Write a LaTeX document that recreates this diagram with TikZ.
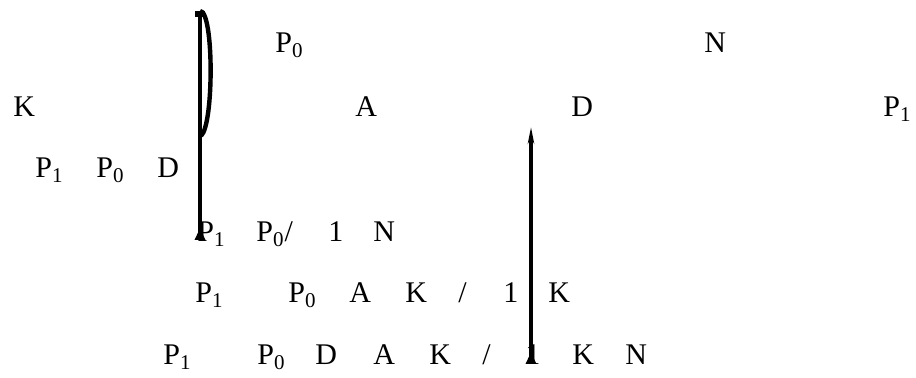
\documentclass[tikz,border=0pt]{standalone}
\usepackage{fontspec}
\setmainfont{Liberation Serif}
\usetikzlibrary{arrows.meta}

\begin{document}
\begin{tikzpicture}[x=0.5pt, y=-0.5pt,
  lbl/.style={anchor=base west, inner sep=0pt, font=\fontsize{15}{18}\selectfont},
  rule/.style={line width=1.6pt},
  foot/.tip={Triangle[reversed, width=5pt, length=6pt]}]
  \useasboundingbox (0,0) rectangle (916,378);
  % top rows
  \node[lbl] (r0p) at (275,53){P\textsubscript{0}}; \node[lbl] (r0n) at (704,53){N};
  \node[lbl] (r1k) at (13,117){K}; \node[lbl] (r1a) at (355,117){A};
  \node[lbl] (r1d) at (571,117){D}; \node[lbl] (r1p) at (883,117){P\textsubscript{1}};
  \node[lbl] (r2p) at (35,178){P\textsubscript{1}}; \node[lbl] (r2q) at (96,178){P\textsubscript{0}};
  \node[lbl] (r2d) at (157,178){D};
  % lower rows
  \node[lbl] (r3p) at (197,242){P\textsubscript{1}}; \node[lbl] (r3q) at (256,242){P\textsubscript{0}/};
  \node[lbl] (r3o) at (328,242){1}; \node[lbl] (r3n) at (373,242){N};
  \node[lbl] (r4p) at (195,303){P\textsubscript{1}}; \node[lbl] (r4q) at (288,303){P\textsubscript{0}};
  \node[lbl] (r4a) at (349,303){A}; \node[lbl] (r4k) at (405,303){K};
  \node[lbl] (r4s) at (458,303){/}; \node[lbl] (r4o) at (503,303){1};
  \node[lbl] (r4m) at (548,303){K};
  \node[lbl] (r5p) at (163,365){P\textsubscript{1}}; \node[lbl] (r5q) at (257,365){P\textsubscript{0}};
  \node[lbl] (r5d) at (315,365){D}; \node[lbl] (r5a) at (373,365){A};
  \node[lbl] (r5k) at (429,365){K}; \node[lbl] (r5s) at (482,365){/};
  \node[lbl] (r5o) at (525,365){1}; \node[lbl] (r5m) at (572,365){K};
  \node[lbl] (r5n) at (625,365){N};
  % bar with loop
  \coordinate (barTop) at (200,11); \coordinate (barBot) at (200,240);
  \coordinate (loopEnd) at (201,136);
  \draw[rule, {Square[width=5pt, length=3pt]}-foot] (barTop) -- (barBot);
  \draw[rule, line width=2.2pt] (barTop) .. controls (214,11) and (214,124) .. (loopEnd);
  % upward arrow
  \coordinate (upBot) at (531,364); \coordinate (upTop) at (531,127);
  \draw[rule, foot-{Stealth[width=3pt, length=8pt]}] (upBot) -- (upTop);
\end{tikzpicture}
\end{document}
